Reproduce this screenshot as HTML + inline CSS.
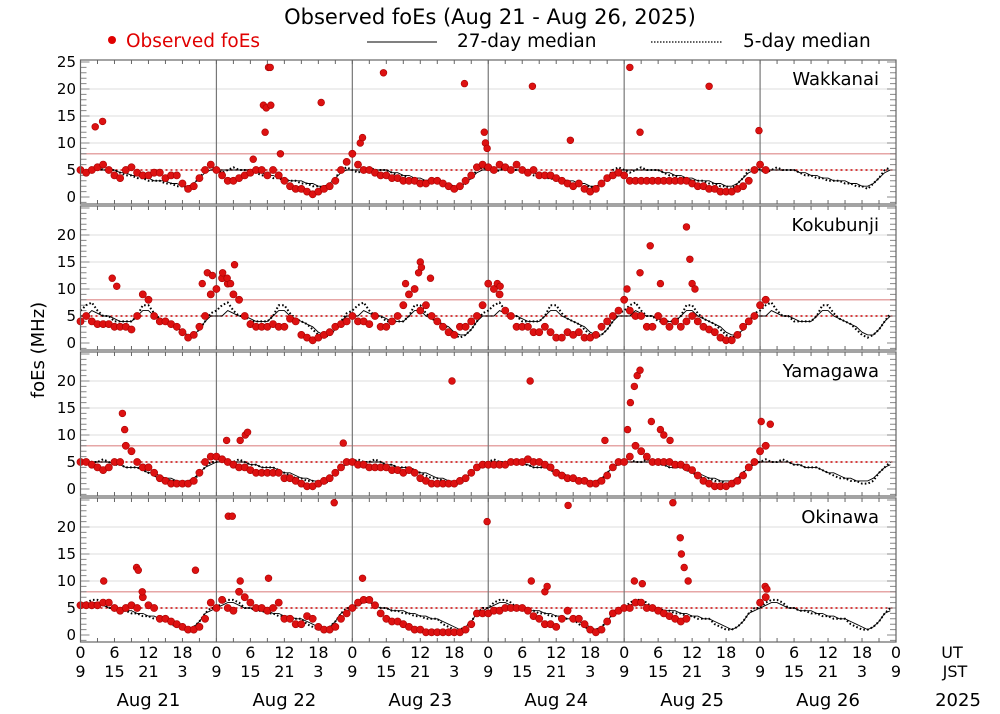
<!DOCTYPE html>
<html><head><meta charset="utf-8"><style>
body{margin:0;background:#fff;}
svg{display:block;font-family:"DejaVu Sans","Liberation Sans",sans-serif;}
</style></head><body>
<svg id="chart" width="1000" height="714" viewBox="0 0 1000 714"></svg>
<script>
const stations=["Wakkanai","Kokubunji","Yamagawa","Okinawa"];
const dayLabels=["Aug 21","Aug 22","Aug 23","Aug 24","Aug 25","Aug 26"];
const utTicks=["0","6","12","18"];
const jstTicks=["9","15","21","3"];
const yTicksFirst=[0,5,10,15,20,25];
const yTicksOther=[0,5,10,15,20];
// hourly observed foEs per station (144 hours, null = no data)
const obsWakkanai=[5,4.5,5,5.5,6,5,4,3.5,5,5.5,4.5,4,4,4.5,4.5,3.5,4,4,2.5,1.5,2,3.5,5,6,
5,4,3,3,3.5,4,4.5,5,5,4,5,4,3,2,1.5,1.5,1,0.5,1,1.5,2,3,5,6.5,
8,6,5,5,4.5,4,4,3.5,3.5,3,3,3,2.5,2.5,3,3,2.5,2,1.5,2,3,4,5.5,6,
5.5,5,6,5.5,5,6,5,4.5,5,4,4,4,3.5,3,2.5,2,2.5,1.5,1,1.5,2.5,3.5,4,4.5,
4,3,3,3,3,3,3,3,3,3,3,3,2.5,2,2,1.5,1.5,1,1,1,1.5,2,3,5,
6,5,null,null,null,null,null,null,null,null,null,null,null,null,null,null,null,null,null,null,null,null,null,null];
const obsKokubunji=[4,5,4,3.5,3.5,3.5,3,3,3,2.5,5,9,8,5,4,4,3.5,3,2,1,1.5,3,5,9,
10,12,11,9,8,5,3.5,3,3,3,3.5,3,3,4.5,4,1.5,1,0.5,1,1.5,2,3,3.5,4,
5,4,4,3.5,5,3,3,4,5,7,9,10,6,7,5,4,3,2,1.5,3,3,4,5,7,
11,10,9,6,5,3,3,3,2,2,3,2,1,1,2,1.5,2,1,1,1.5,3,4,5,6,
8,6,5,5,3,3,5,4,3,4,3,4,5,4,3,2.5,2,1,0.5,0.5,1.5,3,4,5,
7,8,null,null,null,null,null,null,null,null,null,null,null,null,null,null,null,null,null,null,null,null,null,null];
const obsYamagawa=[5,5,4.5,4,3.5,4,5,5,8,7,5,4,4,3,2,1.5,1,1,1,1,1.5,3,5,6,
6,5.5,5,4.5,4,4,3.5,3,3,3,3,3,2,2,1.5,1,0.5,0.5,1,1.5,2,3,4,5,
5,4.5,4.5,4,4,4,4,3.5,3.5,3,3.5,3,2,1.5,1,1,1,1,1,1.5,2,3,4,4.5,
4.5,4.5,4.5,4.5,5,5,5,5.5,5,5,4.5,4,3,2.5,2,2,1.5,1.5,1,1,1.5,2.5,4,5,
5,6,8,7,6,5,5,5,5,4.5,4.5,4,3.5,2.5,1.5,1,0.5,0.5,0.5,1,1.5,2.5,4,5,
7,8,null,null,null,null,null,null,null,null,null,null,null,null,null,null,null,null,null,null,null,null,null,null];
const obsOkinawa=[5.5,5.5,5.5,5.5,6,6,5,4.5,5,5.5,5,7,5.5,5,3,3,2.5,2,1.5,1,1,1.5,3,6,
5,6.5,5,4.5,8,7,6,5,5,4.5,5,6,3,3,2,2,3.5,3,1.5,1,1,1.5,3,4,
5,6,6.5,6.5,5.5,4,3,2.5,2.5,2,1.5,1,1,0.5,0.5,0.5,0.5,0.5,0.5,0.5,1,2,4,4,
4,4.5,4.5,5,5,5,5,4.5,3.5,3,2,2,1.5,3,4.5,3,3,2,1,0.5,1,2.5,4,4.5,
5,5,6,6,5,5,4.5,4,3.5,3,2.5,3,null,null,null,null,null,null,null,null,null,null,null,null,
6,7,null,null,null,null,null,null,null,null,null,null,null,null,null,null,null,null,null,null,null,null,null,null];
// sporadic high readings [hour since Aug 21 00UT, foEs]
const outWakkanai=[[2.6,13],[3.9,14],[33.2,24],[33.5,24],[32.3,17],[32.8,16.5],[33.6,17],[32.6,12],[42.5,17.5],[53.5,23],[67.8,21],[71.3,12],[71.5,10],[71.8,9],[79.8,20.5],[97,24],[98.8,12],[111,20.5],[119.8,12.3],[49.4,10],[49.8,11],[86.5,10.5],[35.3,8],[30.5,7]];
const outKokubunji=[[5.6,12],[6.4,10.5],[21.5,11],[22.4,13],[23.3,12.5],[25.1,13],[25.9,12],[27.2,14.5],[26.5,11],[57.4,11],[60,15],[60.2,14],[59.7,13],[61.8,12],[73.6,11],[74.1,10.5],[96.5,10],[98.8,13],[100.6,18],[107,21.5],[107.6,15.5],[108,11],[108.5,10],[102.4,11]];
const outYamagawa=[[7.4,14],[7.8,11],[29.1,10],[29.5,10.5],[25.8,9],[28.2,9],[46.4,8.5],[65.6,20],[79.4,20],[97.1,16],[97.8,19],[98.3,21],[98.8,22],[100.8,12.5],[102.4,11],[103,10],[104.1,9],[92.6,9],[120.2,12.5],[121.8,12],[96.6,11]];
const outOkinawa=[[4.1,10],[9.9,12.5],[10.2,12],[10.9,8],[20.3,12],[26.1,22],[26.8,22],[28.2,10],[44.8,24.5],[33.2,10.5],[49.8,10.5],[71.8,21],[79.6,10],[86.1,24],[97.8,10],[99.2,9.5],[104.6,24.5],[105.9,18],[106.1,15],[106.6,12.5],[107.3,10],[120.9,9],[121.2,8.5],[82,8],[82.4,9]];
// daily profiles (hour 0..23 UT)
const med27Wakkanai=[5,5,5,5,5,5,5,4.5,4.5,4,4,3.5,3.5,3,3,3,2.5,2.5,2,2,2.5,3.5,4.5,5];
const med5Wakkanai=[5,4.5,5,5.5,5,5,5,4.5,4,4,3.5,3.5,3,3,3,2.5,2.5,2,2,1.5,2.5,3.5,5,5.5];
const med27Kokubunji=[5,5,6,5.5,5,5,4.5,4,4,4,5,6,6,5,4.5,4,3.5,3,2,1.5,1.5,2.5,4,5];
const med5Kokubunji=[6,7,7.5,6,5,5,4,4,4,4,5,7,7,5.5,4.5,4,3.5,2.5,1.5,1,1.5,2.5,4,5.5];
const med27Yamagawa=[5,5,5,5,5,5,4.5,4.5,4,4,4,3.5,3,3,2.5,2,2,1.5,1.5,1.5,2,3,4,4.5];
const med5Yamagawa=[5,5.5,5,5,5.5,5,4.5,4.5,4,4,4,3.5,3,2.5,2,2,1.5,1.5,1,1,1.5,3,4,5];
const med27Okinawa=[5,5.5,6,6,5.5,5,5,4.5,4.5,4.5,4,4,3.5,3.5,3,3,2.5,2,1.5,1,1.5,2.5,4,4.5];
const med5Okinawa=[5,6,6.5,6.5,6,5,5,4.5,4.5,4,4,3.5,3.5,3,3,3,2,1.5,1,1,1.5,2.5,4,5];

const obsAll=[obsWakkanai,obsKokubunji,obsYamagawa,obsOkinawa];
const outAll=[outWakkanai,outKokubunji,outYamagawa,outOkinawa];
const m27All=[med27Wakkanai,med27Kokubunji,med27Yamagawa,med27Okinawa];
const m5All=[med5Wakkanai,med5Kokubunji,med5Yamagawa,med5Okinawa];

const NS="http://www.w3.org/2000/svg";
const svg=document.getElementById('chart');
function mk(tag,attrs,parent){const e=document.createElementNS(NS,tag);for(const k in attrs)e.setAttribute(k,attrs[k]);(parent||svg).appendChild(e);return e;}
const X0=80.5,X1=896,HOURS=144;
const xS=h=>X0+(X1-X0)*h/HOURS;
const panelTops=[60,206,352,498],PH=144,Z=137,PU=5.4;
function yS(p,v){return panelTops[p]+Z-v*PU;}

let t=mk('text',{x:490,y:24,'text-anchor':'middle','font-size':21,fill:'#000'});

t.textContent='Observed foEs (Aug 21 - Aug 26, 2025)';
let lg=mk('g',{});
let c=mk('circle',{cx:112,cy:40,r:4,fill:'#e00000'},lg);
t=mk('text',{x:126,y:47,'font-size':18.5,fill:'#e00000'},lg);t.textContent='Observed foEs';
let l=mk('line',{x1:367,y1:42,x2:437,y2:42,stroke:'#000','stroke-width':1},lg);
t=mk('text',{x:457,y:47,'font-size':18.5,fill:'#000'},lg);t.textContent='27-day median';
l=mk('line',{x1:651,y1:42,x2:722,y2:42,stroke:'#000','stroke-width':1.2,'stroke-dasharray':'1.5,1.5'},lg);
t=mk('text',{x:743,y:47,'font-size':18.5,fill:'#000'},lg);t.textContent='5-day median';
t=mk('text',{x:44,y:350,'font-size':18,'text-anchor':'middle',transform:'rotate(-90 44 350)'});t.textContent='foEs (MHz)';

for(let p=0;p<4;p++){
  const g=mk('g',{});
  const top=panelTops[p],bot=top+PH;
  for(const v of [5,10,15,20]){const gl=mk('line',{x1:X0,x2:X1,y1:yS(p,v),y2:yS(p,v),stroke:'#ddd','stroke-width':1},g);}
  let r=mk('line',{x1:X0,x2:X1,y1:yS(p,8),y2:yS(p,8),stroke:'#d88','stroke-width':1.2},g);
  r=mk('line',{x1:X0,x2:X1,y1:yS(p,5),y2:yS(p,5),stroke:'#c00','stroke-width':1.6,'stroke-dasharray':'2,3'},g);
  for(let d=1;d<6;d++){const dl=mk('line',{x1:xS(d*24),x2:xS(d*24),y1:top,y2:bot,stroke:'#777','stroke-width':1.2},g);}
  for(let h=3;h<HOURS;h+=3){
    const tk=mk('path',{d:`M${xS(h)},${top}v4M${xS(h)},${bot}v-4`,stroke:'#666','stroke-width':1},g);
  }
  for(let v=-1;v<=25;v++){const y=yS(p,v);if(y<top+1||y>bot-1)continue;const len=v%5===0?9:6;
    const tk=mk('path',{d:`M${X0},${y}h${len}M${X1},${y}h${-len}`,stroke:'#888','stroke-width':1},g);}
  const ticks=p===0?yTicksFirst:yTicksOther;
  for(const v of ticks){const tl=mk('text',{x:76,y:yS(p,v)+5,'text-anchor':'end','font-size':15},g);tl.textContent=v;}
  let dpath='',d5='';
  for(let h=0;h<HOURS;h++){dpath+=(h?'L':'M')+xS(h)+','+yS(p,m27All[p][h%24]);d5+=(h?'L':'M')+xS(h)+','+yS(p,m5All[p][h%24]);}
  let pa=mk('path',{d:dpath,fill:'none',stroke:'#000','stroke-width':0.9},g);
  pa=mk('path',{d:d5,fill:'none',stroke:'#000','stroke-width':2,'stroke-dasharray':'1.6,2.2'},g);
  const og=mk('g',{fill:'#dd1111',stroke:'#a00','stroke-width':0.6},g);
  obsAll[p].forEach((v,h)=>{if(v===null)return;const ci=mk('circle',{cx:xS(h),cy:yS(p,v),r:3.6},og);});
  outAll[p].forEach(([h,v])=>{const ci=mk('circle',{cx:xS(h),cy:yS(p,v),r:3.4},og);});
  const fr=mk('rect',{x:X0,y:top,width:X1-X0,height:PH,fill:'none',stroke:'#666','stroke-width':1.2},g);
  const sl=mk('text',{x:879,y:top+25,'text-anchor':'end','font-size':18},g);sl.textContent=stations[p];
}
for(let d=0;d<=6;d++){for(let k=0;k<4;k++){if(d===6&&k>0)break;const h=d*24+k*6;
  let a=mk('text',{x:xS(h),y:658,'text-anchor':'middle','font-size':16});a.textContent=utTicks[k];
  a=mk('text',{x:xS(h),y:677,'text-anchor':'middle','font-size':16});a.textContent=jstTicks[k];}}
dayLabels.forEach((s,d)=>{const a=mk('text',{x:xS(d*24+12),y:706,'text-anchor':'middle','font-size':18});a.textContent=s;});
t=mk('text',{x:952,y:658,'text-anchor':'middle','font-size':16});t.textContent='UT';
t=mk('text',{x:955,y:677,'text-anchor':'middle','font-size':16});t.textContent='JST';
t=mk('text',{x:958,y:706,'text-anchor':'middle','font-size':18});t.textContent='2025';
</script>
</body></html>
